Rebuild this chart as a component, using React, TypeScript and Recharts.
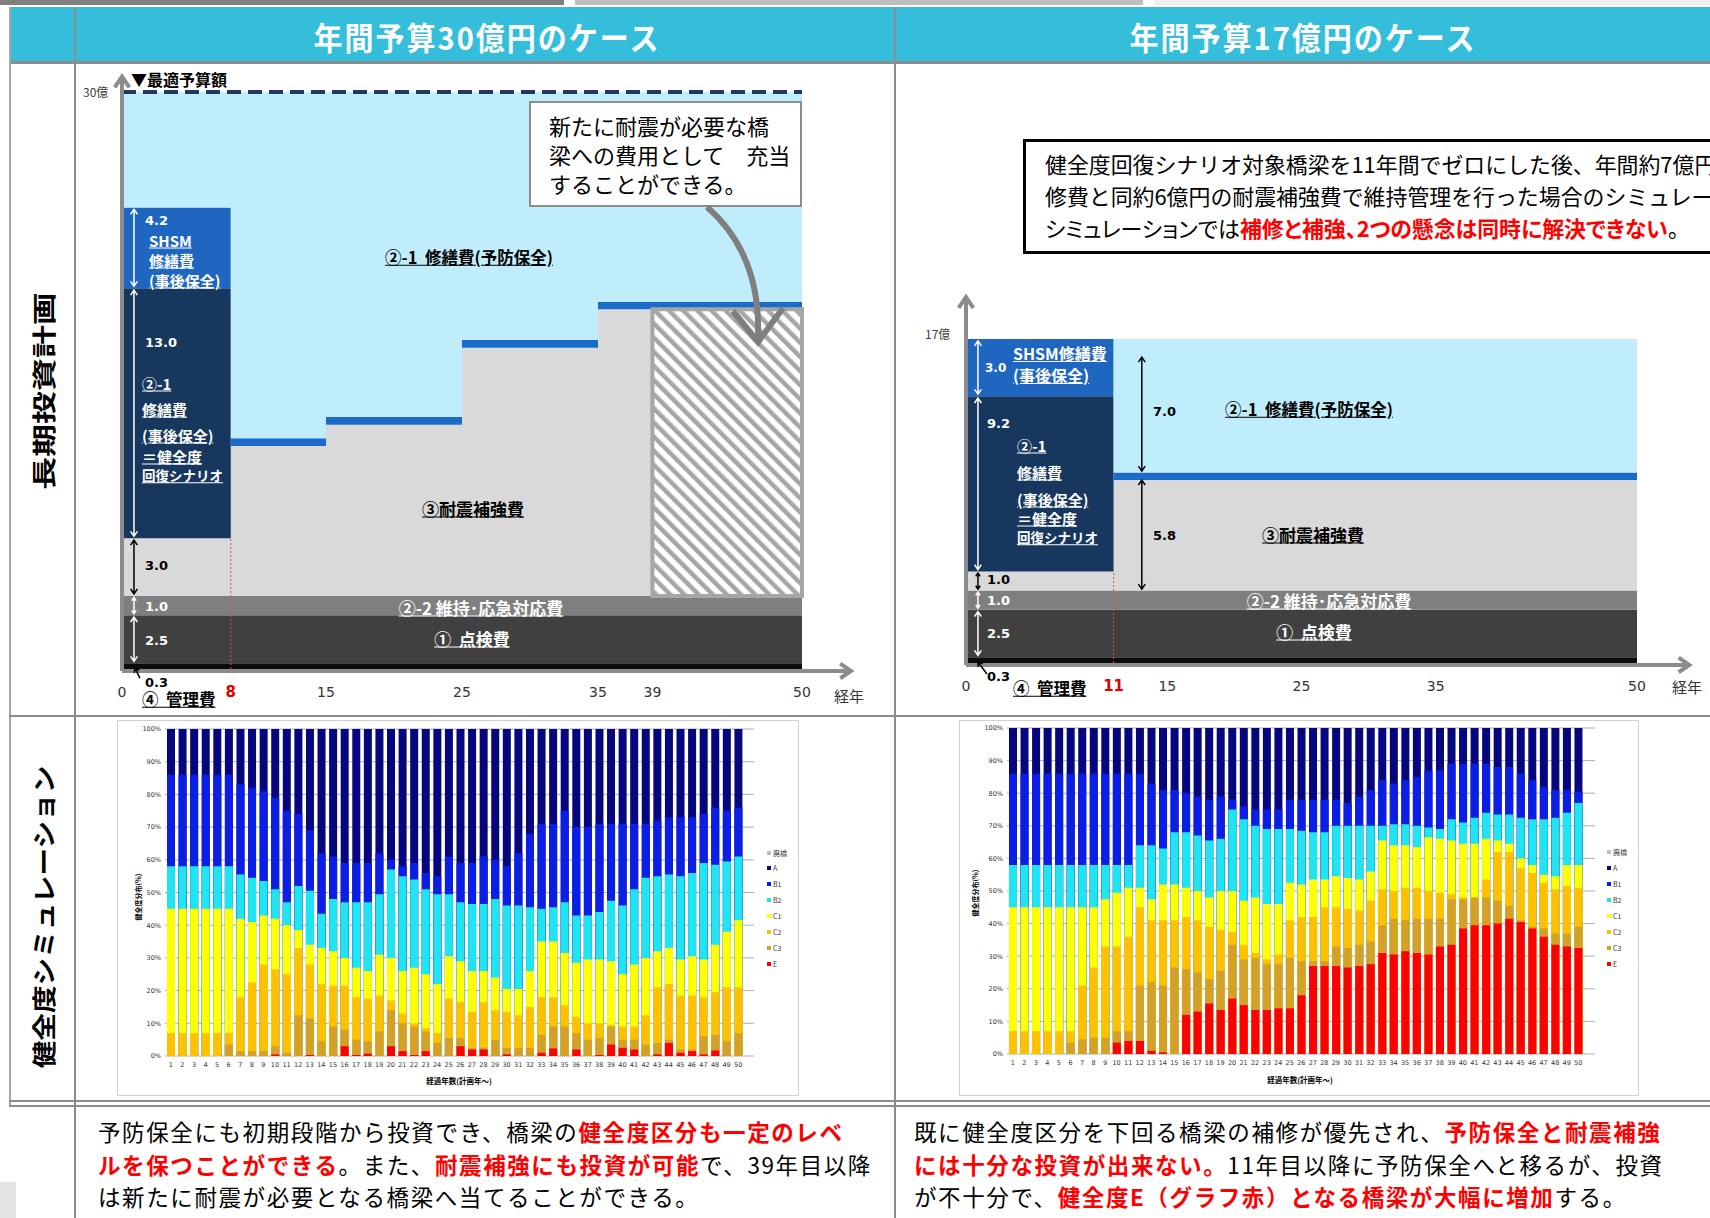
import React from 'react';
import {
  AreaChart, Area, XAxis, YAxis, ReferenceLine, ReferenceArea,
  BarChart, Bar, CartesianGrid,
} from 'recharts';

const JP = '"Noto Sans CJK JP", "Noto Sans CJK SC", "Noto Sans", sans-serif';
const NUM = '"DejaVu Sans", Verdana, sans-serif';

// ---------- 長期投資計画: 年間予算30億円 ----------
const planAYears = [0, 8, 15, 25, 35, 50];
const planAKanri = [0.3, 0.3, 0.3, 0.3, 0.3, 0.3];
const planATenken = [2.5, 2.5, 2.5, 2.5, 2.5, 2.5];
const planAIji = [1.0, 1.0, 1.0, 1.0, 1.0, 1.0];
const planATaishin = [3.0, 7.8, 8.9, 12.9, 14.9, 14.9];
const planAJigo = [13.0, 0, 0, 0, 0, 0];
const planAShsm = [4.2, 0, 0, 0, 0, 0];
const planAEdge = [0, 0.4, 0.4, 0.4, 0.4, 0.4];
const planAYobo = [6.0, 18.0, 16.9, 12.9, 10.9, 10.9];
const planABudget = 30;
const planASwitchYear = 8;
const planAHatchFrom = 39;
const planATicks = [0, 8, 15, 25, 35, 39, 50];

// ---------- 長期投資計画: 年間予算17億円 ----------
const planBYears = [0, 11, 50];
const planBKanri = [0.3, 0.3, 0.3];
const planBTenken = [2.5, 2.5, 2.5];
const planBIji = [1.0, 1.0, 1.0];
const planBTaishin = [1.0, 5.8, 5.8];
const planBJigo = [9.2, 0, 0];
const planBShsm = [3.0, 0, 0];
const planBEdge = [0, 0.4, 0.4];
const planBYobo = [0, 7.0, 7.0];
const planBBudget = 17;
const planBSwitchYear = 11;
const planBTicks = [0, 11, 15, 25, 35, 50];

// ---------- 健全度シミュレーション (cumulative top of each class, %) ----------
const simYears = [1, 2, 3, 4, 5, 6, 7, 8, 9, 10, 11, 12, 13, 14, 15, 16, 17, 18, 19, 20, 21, 22, 23, 24, 25,
  26, 27, 28, 29, 30, 31, 32, 33, 34, 35, 36, 37, 38, 39, 40, 41, 42, 43, 44, 45, 46, 47, 48, 49, 50];
const simTopA = [100, 100, 100, 100, 100, 100, 100, 100, 100, 100, 100, 100, 100, 100, 100, 100, 100, 100, 100, 100,
  100, 100, 100, 100, 100, 100, 100, 100, 100, 100, 100, 100, 100, 100, 100, 100, 100, 100, 100, 100,
  100, 100, 100, 100, 100, 100, 100, 100, 100, 100];
const simYTicks = [0, 10, 20, 30, 40, 50, 60, 70, 80, 90, 100];

const simATopB1 = [86, 86, 86, 86, 86, 86, 83, 82, 81, 79, 75, 74, 69, 62, 61, 59, 59, 59, 62, 60, 58, 59, 56, 55, 61,
  59, 59, 61, 60, 58, 62, 68, 71, 71, 75, 70, 70, 71, 71, 71, 71, 71, 72, 73, 73, 73, 74, 76, 75, 76];
const simATopB2 = [58, 58, 58, 58, 58, 58, 55.5, 54.5, 53.5, 51, 47, 52, 50.5, 43.5, 48, 47, 47, 47, 49.5, 57, 55, 54, 51, 49.5, 49.5,
  47, 46.5, 46.5, 48, 46, 46, 45.5, 45, 45.5, 47, 43, 43, 44, 47.5, 46, 51, 54.5, 55, 55.5, 55, 56, 59, 58.5, 59.5, 61];
const simATopC1 = [45, 45, 45, 45, 45, 45, 42, 41, 43, 42, 40, 38.5, 34, 33, 32, 30, 27, 26, 31, 30, 26, 27, 25, 22, 30.5,
  29, 26, 26, 24, 20.5, 20.5, 26, 35, 35, 31.5, 28.5, 29.5, 29.5, 29, 25, 28, 30, 32, 33, 29.5, 30.5, 29.5, 34, 38, 41.5];
const simATopC2 = [7, 7, 7, 7, 7, 7, 18, 22.5, 28, 26.5, 25, 33, 28, 22, 21.5, 21.5, 18, 17.5, 18.5, 17, 13, 10, 8.5, 7, 17.5,
  16.5, 13.5, 16.5, 14, 13.5, 12.5, 15, 18, 18, 15.5, 12, 10, 10, 9.5, 9, 9, 12.5, 21, 22, 18.5, 18.5, 18, 19.5, 21, 21];
const simATopC3 = [0, 0, 0, 0, 0, 3.5, 1.5, 1.5, 1.5, 3, 1, 12.5, 11.5, 4.5, 9, 8, 5, 4.5, 7.5, 14, 10, 9, 7.5, 4, 5.5,
  5.5, 2.5, 2.5, 5, 2.5, 2.5, 2.5, 6.5, 9, 9, 7, 5, 5.5, 9, 5, 5, 3.5, 4, 5, 2, 2, 6, 6.5, 4.5, 7];
const simATopE = [0, 0, 0, 0, 0, 0, 0, 0, 0, 0.5, 0, 0, 0.3, 0, 0, 3, 0.3, 0.7, 0, 3, 1.5, 0.3, 1.5, 0, 0,
  3, 2, 2, 0, 0.5, 0, 0, 1, 2.3, 0, 2, 0, 0.3, 3.5, 2.5, 2, 0, 0.5, 4, 1, 1.5, 0.5, 1.7, 0, 0];

const simBTopB1 = [86, 86, 86, 86, 86, 86, 86, 86, 86, 86, 86, 86, 83, 81, 81, 80, 79, 78, 79, 78, 76, 75, 75, 75, 78,
  78, 78, 78, 78, 77, 79, 81, 84, 83, 84, 85, 87, 87, 89, 89, 89, 89, 88, 88, 86, 84, 82, 81, 81, 80.5];
const simBTopB2 = [58, 58, 58, 58, 58, 58, 58, 58, 58, 58, 58, 64, 64, 63, 68, 68, 67, 65.5, 66, 75, 72, 70, 69, 69, 69,
  68.5, 68, 68, 70, 70, 70, 70, 70, 70.5, 70.5, 70, 69.5, 69, 72, 71, 72.5, 74, 73.5, 73.5, 72.5, 72, 72, 72.5, 74, 77];
const simBTopC1 = [45, 45, 45, 45, 45, 45, 45, 45, 47.5, 49.5, 51, 51, 47.5, 52, 52, 51, 50, 48, 50, 50, 47, 48, 46, 46, 52.5,
  52, 53.5, 53.5, 54.5, 54, 53.5, 56, 65.5, 64, 64, 63.5, 66.5, 66, 65.5, 64.5, 64.5, 66, 65.5, 64.5, 60, 58, 55, 54.5, 58, 58];
const simBTopC2 = [7, 7, 7, 7, 7, 7, 21, 26.5, 33, 33, 36, 45, 41, 41, 41, 42, 41, 39, 38, 37.5, 33.5, 31, 29, 30.5, 41,
  42, 42, 45, 45, 44.5, 44, 47, 50.5, 50, 51, 51, 50, 49.5, 49, 48, 48, 53.5, 62, 62, 57, 55.5, 52.5, 50.5, 51.5, 51];
const simBTopC3 = [0, 0, 0, 0, 0, 3.5, 4.5, 5, 5, 7, 7, 21, 22, 21, 26.5, 26, 25, 23, 25.5, 33.5, 29, 29.5, 27.5, 27.5, 29.5,
  28.5, 28.5, 28.5, 33, 32.5, 33.5, 34.5, 39.5, 41.5, 41, 41.5, 41.5, 41.5, 47.5, 47.5, 48, 48, 47, 45.5, 41, 39, 38.5, 37, 37, 39];
const simBTopE = [0, 0, 0, 0, 0, 0, 0, 0, 0, 3.5, 4, 4, 1, 0.5, 0, 12, 13, 15.5, 13.5, 17, 15, 13.5, 13.5, 14, 14,
  18, 27, 27, 27, 26.5, 27, 27.5, 31, 30.5, 31.5, 31, 30.5, 33, 33.5, 38.5, 39.5, 39.5, 40, 41.5, 40.5, 38.5, 36, 33.5, 33, 32.5];

const legendNames = ['廃橋', 'A', 'B1', 'B2', 'C1', 'C2', 'C3', 'E'];

// ---------- styles ----------
const PLAN_LAYERS = [
  { key: 'kanri', color: '#0d0d0d' },
  { key: 'tenken', color: '#404040' },
  { key: 'iji', color: '#7f7f7f' },
  { key: 'taishin', color: '#d9d9d9' },
  { key: 'jigo', color: '#17375e' },
  { key: 'shsm', color: '#1f66c0' },
  { key: 'edge', color: '#1a6cc8' },
  { key: 'yobo', color: '#c0edfb' },
];

const SIM_LAYERS = [
  { key: 'A', color: '#06067e' },
  { key: 'B1', color: '#0a1ee6' },
  { key: 'B2', color: '#1fe4f2' },
  { key: 'C1', color: '#ffff00' },
  { key: 'C2', color: '#ffc000' },
  { key: 'C3', color: '#d4a025' },
  { key: 'E', color: '#ff0000' },
];
const LEGEND_COLORS = ['#bfbfbf', '#06067e', '#0a1ee6', '#1fe4f2', '#ffff00', '#ffc000', '#d4a025', '#ff0000'];

function buildPlan(years: number[], kanri: number[], tenken: number[], iji: number[], taishin: number[],
  jigo: number[], shsm: number[], edge: number[], yobo: number[]) {
  return years.map((year, i) => ({
    year, kanri: kanri[i], tenken: tenken[i], iji: iji[i], taishin: taishin[i],
    jigo: jigo[i], shsm: shsm[i], edge: edge[i], yobo: yobo[i],
  }));
}

const planAData = buildPlan(planAYears, planAKanri, planATenken, planAIji, planATaishin, planAJigo, planAShsm, planAEdge, planAYobo);
const planBData = buildPlan(planBYears, planBKanri, planBTenken, planBIji, planBTaishin, planBJigo, planBShsm, planBEdge, planBYobo);

function buildSim(b1: number[], b2: number[], c1: number[], c2: number[], c3: number[], e: number[]) {
  return simYears.map((y, i) => ({
    year: String(y), A: simTopA[i], B1: b1[i], B2: b2[i], C1: c1[i], C2: c2[i], C3: c3[i], E: e[i],
  }));
}
const simAData = buildSim(simATopB1, simATopB2, simATopC1, simATopC2, simATopC3, simATopE);
const simBData = buildSim(simBTopB1, simBTopB2, simBTopC1, simBTopC2, simBTopC3, simBTopE);

function arrowShape(color: string, width: number, head: number, both: boolean) {
  return (p: any) => {
    const { x1, y1, x2, y2 } = p;
    const a = Math.atan2(y2 - y1, x2 - x1);
    const wing = (x: number, y: number, ang: number) =>
      `M${x - head * Math.cos(ang - 0.6)},${y - head * Math.sin(ang - 0.6)}L${x},${y}L${x - head * Math.cos(ang + 0.6)},${y - head * Math.sin(ang + 0.6)}`;
    let d = `M${x1},${y1}L${x2},${y2}` + wing(x2, y2, a);
    if (both) d += wing(x1, y1, a + Math.PI);
    return <path d={d} stroke={color} strokeWidth={width} fill="none" />;
  };
}

type Arrow = { x1: number; y1: number; x2: number; y2: number; color: string; both: boolean; w?: number; head?: number };

function makeTick(redTick: number) {
  return (p: any) => {
    const v = p.payload.value;
    const red = v === redTick;
    return (
      <text x={p.x} y={p.y + 23} textAnchor="middle" dominantBaseline="central"
        fontSize={red ? 15 : 14} fontWeight={red ? 700 : 400} fill={red ? '#e00000' : '#333'} fontFamily={NUM}>
        {v}
      </text>
    );
  };
}

function PlanChart(props: {
  id: string; data: any[]; budget: number; ticks: number[]; redTick: number; left: number; top: number;
  width: number; height: number; margin: any; arrows: Arrow[]; hatchFrom?: number; dashed?: boolean; switchTop: number;
}) {
  const { id, data, budget, ticks, redTick, left, top, width, height, margin, arrows, hatchFrom, dashed, switchTop } = props;
  const last = data[data.length - 1];
  const hatchBase = last.kanri + last.tenken + last.iji;
  return (
    <div style={{ position: 'absolute', left, top }}>
      <AreaChart width={width} height={height} data={data} margin={margin}>
        <defs>
          <pattern id={id} patternUnits="userSpaceOnUse" width={10} height={10} patternTransform="rotate(-45)">
            <rect x={0} y={0} width={10} height={10} fill="#ffffff" />
            <rect x={0} y={0} width={4.5} height={10} fill="#a6a6a6" />
          </pattern>
        </defs>
        <XAxis dataKey="year" type="number" domain={[0, 50]} allowDataOverflow ticks={ticks} interval={0}
          axisLine={false} tickLine={false} tickSize={0} tickMargin={0} height={30} tick={makeTick(redTick)} />
        <YAxis hide type="number" domain={[0, budget]} allowDataOverflow />
        {PLAN_LAYERS.map((l) => (
          <Area key={l.key} type="stepAfter" dataKey={l.key} stackId="s" fill={l.color} fillOpacity={1}
            stroke="none" isAnimationActive={false} dot={false} activeDot={false} />
        ))}
        {hatchFrom !== undefined && (
          <ReferenceArea x1={hatchFrom} x2={last.year} y1={hatchBase} y2={hatchBase + last.taishin}
            fill={`url(#${id})`} fillOpacity={1} stroke="#a6a6a6" strokeWidth={4} ifOverflow="visible" />
        )}
        {dashed && (
          <ReferenceLine y={budget} stroke="#1f3864" strokeWidth={4} strokeDasharray="14 7" ifOverflow="visible" />
        )}
        <ReferenceLine segment={[{ x: redTick, y: 0 }, { x: redTick, y: switchTop }]} stroke="#e05050"
          strokeWidth={1} strokeDasharray="2 2" ifOverflow="visible" />
        {arrows.map((a, i) => (
          <ReferenceLine key={i} segment={[{ x: a.x1, y: a.y1 }, { x: a.x2, y: a.y2 }]} ifOverflow="visible"
            shape={arrowShape(a.color, a.w ?? 1.5, a.head ?? 6, a.both)} />
        ))}
      </AreaChart>
    </div>
  );
}

function levels(d: any) {
  const l0 = d.kanri;
  const l1 = l0 + d.tenken;
  const l2 = l1 + d.iji;
  const l3 = l2 + d.taishin;
  const l4 = l3 + d.jigo;
  const l5 = l4 + d.shsm;
  return [l0, l1, l2, l3, l4, l5];
}

const A0 = levels(planAData[0]);
const B0 = levels(planBData[0]);
const B1l = levels(planBData[1]);

const arrowsA: Arrow[] = [
  { x1: 0, y1: -0.1, x2: 53.6, y2: -0.1, color: '#8c8c8c', both: false, w: 4, head: 13 },
  { x1: 0, y1: -0.1, x2: 0, y2: 30.8, color: '#8c8c8c', both: false, w: 4, head: 13 },
  { x1: 0.88, y1: A0[4] + 0.1, x2: 0.88, y2: A0[5] - 0.1, color: '#fff', both: true },
  { x1: 0.88, y1: A0[3] + 0.1, x2: 0.88, y2: A0[4] - 0.1, color: '#fff', both: true },
  { x1: 0.88, y1: A0[2] + 0.1, x2: 0.88, y2: A0[3] - 0.1, color: '#000', both: true },
  { x1: 0.88, y1: A0[1] + 0.08, x2: 0.88, y2: A0[2] - 0.08, color: '#fff', both: true, head: 4 },
  { x1: 0.88, y1: A0[0] + 0.1, x2: 0.88, y2: A0[1] - 0.1, color: '#fff', both: true },
  { x1: 1.32, y1: -0.47, x2: 0.95, y2: 0.05, color: '#000', both: false, head: 5 },
];

const arrowsB: Arrow[] = [
  { x1: 0, y1: -0.1, x2: 53.9, y2: -0.1, color: '#8c8c8c', both: false, w: 4, head: 13 },
  { x1: 0, y1: -0.1, x2: 0, y2: 19.2, color: '#8c8c8c', both: false, w: 4, head: 13 },
  { x1: 0.89, y1: B0[4] + 0.1, x2: 0.89, y2: B0[5] - 0.1, color: '#fff', both: true },
  { x1: 0.89, y1: B0[3] + 0.1, x2: 0.89, y2: B0[4] - 0.1, color: '#fff', both: true },
  { x1: 0.89, y1: B0[2] + 0.08, x2: 0.89, y2: B0[3] - 0.08, color: '#000', both: true, head: 4 },
  { x1: 0.89, y1: B0[1] + 0.08, x2: 0.89, y2: B0[2] - 0.08, color: '#fff', both: true, head: 4 },
  { x1: 0.89, y1: B0[0] + 0.1, x2: 0.89, y2: B0[1] - 0.1, color: '#fff', both: true },
  { x1: 1.56, y1: -0.58, x2: 0.89, y2: 0.05, color: '#000', both: false, head: 5 },
  { x1: 13.1, y1: B1l[2] + 0.08, x2: 13.1, y2: B1l[3], color: '#000', both: true },
  { x1: 13.1, y1: B1l[3] + planBEdge[1] + 0.07, x2: 13.1, y2: planBBudget - 0.95, color: '#000', both: true },
];

function SimChart(props: { data: any[]; left: number; top: number; width: number; height: number; margin: any; padRight: number }) {
  const { data, left, top, width, height, margin, padRight } = props;
  return (
    <div style={{ position: 'absolute', left, top }}>
      <BarChart width={width} height={height} data={data} margin={margin} barSize={8} barGap={-8} barCategoryGap={0}>
        <CartesianGrid vertical={false} stroke="#9a9a9a" strokeWidth={0.8} />
        <XAxis dataKey="year" interval={0} axisLine={false} tickLine={false} tickSize={0} tickMargin={6} height={20}
          padding={{ left: 0, right: padRight }} tick={{ fontSize: 6.5, fill: '#333', fontFamily: NUM }} />
        <YAxis type="number" domain={[0, 100]} ticks={simYTicks} tickFormatter={(v: number) => `${v}%`} width={30}
          axisLine={false} tickLine={false} tickSize={0} tickMargin={4} tick={{ fontSize: 6.5, fill: '#333', fontFamily: NUM }} />
        {SIM_LAYERS.map((l) => (
          <Bar key={l.key} dataKey={l.key} fill={l.color} barSize={8} isAnimationActive={false} />
        ))}
      </BarChart>
    </div>
  );
}

function Lbl(p: { x: number; y: number; t: React.ReactNode; size?: number; color?: string; bold?: boolean; u?: boolean; c?: boolean; font?: string }) {
  const { x, y, t, size = 15, color = '#000', bold = true, u = false, c = false, font = JP } = p;
  return (
    <div style={{
      position: 'absolute', left: x, top: y, transform: `translate(${c ? '-50%' : '0'}, -50%)`,
      fontSize: size, color, fontWeight: bold ? 700 : 400, textDecoration: u ? 'underline' : 'none',
      fontFamily: font, whiteSpace: 'pre', lineHeight: 1,
    }}>{t}</div>
  );
}

const R = ({ children }: { children: React.ReactNode }) => (
  <span style={{ color: '#ff0000', fontWeight: 700 }}>{children}</span>
);

function Legend({ x, ys }: { x: number; ys: number[] }) {
  return (
    <>
      {legendNames.map((n, i) => (
        <div key={n} style={{ position: 'absolute', left: x, top: ys[i] - 4, height: 8, display: 'flex', alignItems: 'center', fontSize: 7, fontFamily: JP, color: '#333', whiteSpace: 'nowrap' }}>
          <span style={{ display: 'inline-block', width: 4, height: 4, background: LEGEND_COLORS[i], marginRight: 2 }} />{n}
        </div>
      ))}
    </>
  );
}

const line = (s: React.CSSProperties) => <div style={{ position: 'absolute', background: '#8c8c8c', ...s }} />;

export default function App() {
  const whiteU = { color: '#fff', u: true };
  const blk = 15;
  return (
    <div style={{ position: 'absolute', left: 0, top: 0, width: 1710, height: 1218, overflow: 'hidden', background: '#fff', fontFamily: JP }}>
      {/* top strips */}
      <div style={{ position: 'absolute', left: 0, top: 0, width: 564, height: 5, background: '#7f7f7f' }} />
      <div style={{ position: 'absolute', left: 575, top: 0, width: 568, height: 5, background: '#bfbfbf' }} />
      <div style={{ position: 'absolute', left: 1154, top: 0, width: 556, height: 5, background: '#efefef' }} />
      {/* header */}
      <div style={{ position: 'absolute', left: 9, top: 7, width: 1701, height: 54, background: '#35bedb' }} />
      {line({ left: 9, top: 61, width: 1701, height: 3 })}
      <div style={{ position: 'absolute', left: 487, top: 36, transform: 'translate(-50%,-50%) scaleY(1.08)', color: '#fff', fontSize: 29, fontWeight: 700, letterSpacing: 2, whiteSpace: 'nowrap', lineHeight: 1 }}>年間予算30億円のケース</div>
      <div style={{ position: 'absolute', left: 1303, top: 36, transform: 'translate(-50%,-50%) scaleY(1.08)', color: '#fff', fontSize: 29, fontWeight: 700, letterSpacing: 2, whiteSpace: 'nowrap', lineHeight: 1 }}>年間予算17億円のケース</div>

      {/* table lines */}
      {line({ left: 9, top: 7, width: 2, height: 1098, background: '#a6a6a6' })}
      {line({ left: 74, top: 7, width: 2, height: 1211 })}
      {line({ left: 894, top: 7, width: 2, height: 1211 })}
      {line({ left: 9, top: 715, width: 1701, height: 2 })}
      {line({ left: 9, top: 1100, width: 1701, height: 2 })}
      {line({ left: 9, top: 1105, width: 1701, height: 2 })}
      <div style={{ position: 'absolute', left: 0, top: 1182, width: 16, height: 36, background: '#e3e3e3' }} />

      {/* row labels */}
      <div style={{ position: 'absolute', left: 43, top: 391, transform: 'translate(-50%,-50%) rotate(-90deg) scaleX(1.37)', fontSize: 24, fontWeight: 700, whiteSpace: 'nowrap', lineHeight: 1 }}>長期投資計画</div>
      <div style={{ position: 'absolute', left: 43, top: 917, transform: 'translate(-50%,-50%) rotate(-90deg) scaleX(1.15)', fontSize: 24, fontWeight: 700, whiteSpace: 'nowrap', lineHeight: 1 }}>健全度シミュレーション</div>

      {/* plan charts */}
      <PlanChart id="hatchA" data={planAData} budget={planABudget} ticks={planATicks} redTick={planASwitchYear}
        left={80} top={64} width={815} height={650} margin={{ top: 28, right: 93, bottom: 15, left: 42 }}
        arrows={arrowsA} hatchFrom={planAHatchFrom} dashed switchTop={A0[3]} />
      <PlanChart id="hatchB" data={planBData} budget={planBBudget} ticks={planBTicks} redTick={planBSwitchYear}
        left={896} top={64} width={814} height={650} margin={{ top: 275, right: 73, bottom: 21, left: 70 }}
        arrows={arrowsB} switchTop={B0[3]} />

      {/* left plan labels */}
      <Lbl x={131} y={79} t="▼最適予算額" size={16} />
      <Lbl x={83} y={92} t="30億" size={12} bold={false} color="#404040" />
      <Lbl x={145} y={220} t="4.2" size={13} color="#fff" font={NUM} />
      <Lbl x={149} y={240} t="SHSM" size={blk} {...whiteU} />
      <Lbl x={149} y={260} t="修繕費" size={blk} {...whiteU} />
      <Lbl x={149} y={280} t="(事後保全)" size={blk} {...whiteU} />
      <Lbl x={145} y={342} t="13.0" size={13} color="#fff" font={NUM} />
      <Lbl x={142} y={383} t="②-1" size={blk} {...whiteU} />
      <Lbl x={142} y={409} t="修繕費" size={blk} {...whiteU} />
      <Lbl x={142} y={435} t="(事後保全)" size={blk} {...whiteU} />
      <Lbl x={142} y={456} t="＝健全度" size={blk} {...whiteU} />
      <Lbl x={142} y={476} t="回復シナリオ" size={13.5} {...whiteU} />
      <Lbl x={145} y={565} t="3.0" size={13} font={NUM} />
      <Lbl x={145} y={606} t="1.0" size={13} color="#fff" font={NUM} />
      <Lbl x={145} y={640} t="2.5" size={13} color="#fff" font={NUM} />
      <Lbl x={145} y={682} t="0.3" size={13} font={NUM} />
      <Lbl x={142} y={699} t="④  管理費" size={16.5} u />
      <Lbl x={849} y={695} t="経年" size={15} bold={false} color="#333" c />
      <Lbl x={469} y={257} t="②-1  修繕費(予防保全)" size={16.5} u c />
      <Lbl x={473} y={508} t="③耐震補強費" size={17} u c />
      <Lbl x={481} y={607} t="②-2 維持･応急対応費" size={17} color="#fff" u c />
      <Lbl x={472} y={638} t="①  点検費" size={17} color="#fff" u c />

      {/* left callout */}
      <div style={{ position: 'absolute', left: 529, top: 101, width: 273, height: 106, border: '2px solid #8c8c8c', boxSizing: 'border-box', background: '#fff', paddingLeft: 18, paddingTop: 8, fontSize: 22, lineHeight: '29px', whiteSpace: 'nowrap' }}>
        <div>新たに耐震が必要な橋</div>
        <div>梁への費用として　充当</div>
        <div>することができる。</div>
      </div>
      <svg style={{ position: 'absolute', left: 0, top: 0, pointerEvents: 'none' }} width={1710} height={1218}>
        <path d="M707,207 C745,240 760,285 758,338" stroke="#7f7f7f" strokeWidth={6} fill="none" />
        <path d="M733,311 L758,342 L783,308" stroke="#7f7f7f" strokeWidth={6} fill="none" />
      </svg>

      {/* right plan labels */}
      <Lbl x={925} y={334} t="17億" size={12} bold={false} color="#404040" />
      <Lbl x={985} y={368} t="3.0" size={12} color="#fff" font={NUM} />
      <Lbl x={1013} y={353} t="SHSM修繕費" size={16} {...whiteU} />
      <Lbl x={1013} y={375} t="(事後保全)" size={16} {...whiteU} />
      <Lbl x={987} y={423} t="9.2" size={13} color="#fff" font={NUM} />
      <Lbl x={1017} y={445} t="②-1" size={blk} {...whiteU} />
      <Lbl x={1017} y={472} t="修繕費" size={blk} {...whiteU} />
      <Lbl x={1017} y={499} t="(事後保全)" size={blk} {...whiteU} />
      <Lbl x={1017} y={518} t="＝健全度" size={blk} {...whiteU} />
      <Lbl x={1017} y={538} t="回復シナリオ" size={13.5} {...whiteU} />
      <Lbl x={987} y={579} t="1.0" size={13} font={NUM} />
      <Lbl x={987} y={600} t="1.0" size={13} color="#fff" font={NUM} />
      <Lbl x={987} y={633} t="2.5" size={13} color="#fff" font={NUM} />
      <Lbl x={987} y={676} t="0.3" size={13} font={NUM} />
      <Lbl x={1013} y={688} t="④  管理費" size={16.5} u />
      <Lbl x={1687} y={686} t="経年" size={15} bold={false} color="#333" c />
      <Lbl x={1153} y={411} t="7.0" size={13} font={NUM} />
      <Lbl x={1153} y={535} t="5.8" size={13} font={NUM} />
      <Lbl x={1309} y={409} t="②-1  修繕費(予防保全)" size={16.5} u c />
      <Lbl x={1313} y={534} t="③耐震補強費" size={17} u c />
      <Lbl x={1329} y={600} t="②-2 維持･応急対応費" size={17} color="#fff" u c />
      <Lbl x={1314} y={631} t="①  点検費" size={17} color="#fff" u c />

      {/* right text box (cut at the right page edge, as in the slide) */}
      <div style={{ position: 'absolute', left: 1023, top: 139, width: 740, height: 115, border: '3.5px solid #000', boxSizing: 'border-box', background: '#fff', paddingLeft: 19, paddingTop: 6, fontSize: 21.9, lineHeight: '32px', whiteSpace: 'nowrap' }}>
        <div>健全度回復シナリオ対象橋梁を11年間でゼロにした後、年間約7億円</div>
        <div>修費と同約6億円の耐震補強費で維持管理を行った場合のシミュレー</div>
        <div style={{ fontFeatureSettings: '"palt"' }}>シミュレーションでは<R>補修と補強、2つの懸念は同時に解決できない</R>。</div>
      </div>

      {/* simulation charts */}
      <div style={{ position: 'absolute', left: 117, top: 720, width: 682, height: 376, border: '1px solid #d0d0d0', boxSizing: 'border-box' }} />
      <div style={{ position: 'absolute', left: 959, top: 720, width: 680, height: 376, border: '1px solid #d0d0d0', boxSizing: 'border-box' }} />
      <SimChart data={simAData} left={117} top={720} width={682} height={376} margin={{ top: 9, right: 45, bottom: 20, left: 18 }} padRight={10} />
      <SimChart data={simBData} left={959} top={720} width={680} height={376} margin={{ top: 8, right: 44, bottom: 22, left: 18 }} padRight={11} />
      <div style={{ position: 'absolute', left: 138, top: 897, transform: 'translate(-50%,-50%) rotate(-90deg)', fontSize: 7, fontWeight: 700, whiteSpace: 'nowrap', lineHeight: 1 }}>健全度分布(%)</div>
      <div style={{ position: 'absolute', left: 975, top: 893, transform: 'translate(-50%,-50%) rotate(-90deg)', fontSize: 7, fontWeight: 700, whiteSpace: 'nowrap', lineHeight: 1 }}>健全度分布(%)</div>
      <Lbl x={459} y={1081} t="経過年数(計画年～)" size={7.5} c />
      <Lbl x={1300} y={1080} t="経過年数(計画年～)" size={7.5} c />
      <Legend x={767} ys={[853, 868, 884, 900, 916, 932, 948, 964]} />
      <Legend x={1607} ys={[852, 868, 884, 900, 916, 932, 948, 964]} />

      {/* bottom explanations */}
      <div style={{ position: 'absolute', left: 98, top: 1115, fontSize: 22.5, letterSpacing: 1.6, lineHeight: '32.6px', whiteSpace: 'nowrap' }}>
        <div>予防保全にも初期段階から投資でき、橋梁の<R>健全度区分も一定のレベ</R></div>
        <div><R>ルを保つことができる</R>。また、<R>耐震補強にも投資が可能</R>で、39年目以降</div>
        <div>は新たに耐震が必要となる橋梁へ当てることができる。</div>
      </div>
      <div style={{ position: 'absolute', left: 914, top: 1115, fontSize: 22.5, letterSpacing: 1.6, lineHeight: '32.6px', whiteSpace: 'nowrap' }}>
        <div>既に健全度区分を下回る橋梁の補修が優先され、<R>予防保全と耐震補強</R></div>
        <div><R>には十分な投資が出来ない。</R>11年目以降に予防保全へと移るが、投資</div>
        <div>が不十分で、<R>健全度E（グラフ赤）となる橋梁が大幅に増加</R>する。</div>
      </div>
    </div>
  );
}
